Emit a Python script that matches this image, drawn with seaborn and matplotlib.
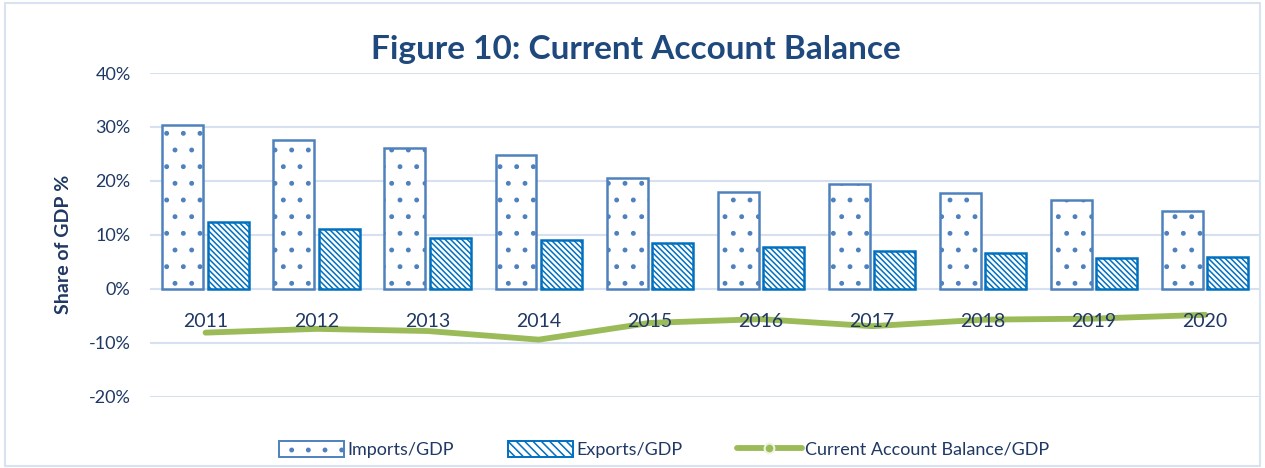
import matplotlib
matplotlib.use("Agg")
import matplotlib.pyplot as plt
import seaborn as sns
import pandas as pd
import numpy as np
from matplotlib.patches import Patch
from matplotlib.lines import Line2D
from matplotlib.ticker import PercentFormatter

years = ["2011", "2012", "2013", "2014", "2015", "2016", "2017", "2018", "2019", "2020"]
imports_gdp = [30.4, 27.6, 26.1, 24.8, 20.6, 18.0, 19.4, 17.8, 16.5, 14.4]
exports_gdp = [12.4, 11.1, 9.4, 9.1, 8.5, 7.8, 7.0, 6.7, 5.7, 5.9]
cab_gdp = [-8.1, -7.4, -7.8, -9.4, -6.3, -5.6, -6.9, -5.7, -5.5, -4.8]

sns.set_theme(style="white")
plt.rcParams['font.family'] = ['Lato', 'DejaVu Sans']
plt.rcParams['axes.unicode_minus'] = False
plt.rcParams['hatch.linewidth'] = 1.1

navy = "#1F3864"
title_c = "#1F497D"
edge_c = "#4F81BD"
hatch_c = "#0070C0"
green = "#9BBB59"
grid_c = "#D6E0F0"

DOT_H = "."
STRIPE_H = "\\\\\\\\\\\\"

df = pd.DataFrame({
    "Year": years * 2,
    "Value": imports_gdp + exports_gdp,
    "Series": ["Imports/GDP"] * len(years) + ["Exports/GDP"] * len(years),
})

fig = plt.figure(figsize=(12.65, 4.68), dpi=100)
ax = fig.add_axes([0.1186, 0.152, 0.8780, 0.692])

sns.barplot(data=df, x="Year", y="Value", hue="Series", ax=ax,
            palette=["white", "white"], width=0.82, gap=0.1,
            edgecolor=hatch_c, linewidth=1.8, legend=False, zorder=3)

n = len(years)
for i, p in enumerate(ax.patches[:2 * n]):
    p.set_facecolor("white")
    if i < n:
        p.set_hatch(DOT_H)
        p.set_edgecolor(edge_c)
    else:
        p.set_hatch(STRIPE_H)
        p.set_edgecolor(hatch_c)

line_df = pd.DataFrame({"Year": years, "Value": cab_gdp})
sns.lineplot(data=line_df, x="Year", y="Value", ax=ax, color=green,
             linewidth=4.2, zorder=4, sort=False)

ax.set_ylim(-20, 40)
ax.set_xlim(-0.5, n - 0.5)
ax.set_yticks([-20, -10, 0, 10, 20, 30, 40])
ax.yaxis.set_major_formatter(PercentFormatter(decimals=0))
ax.grid(axis="y", color=grid_c, linewidth=1.5, zorder=0)
ax.set_axisbelow(True)
ax.xaxis.set_zorder(6)
for s in ["top", "right", "left"]:
    ax.spines[s].set_visible(False)
ax.spines["bottom"].set_position(("data", 0))
ax.spines["bottom"].set_visible(False)
ax.tick_params(axis="x", length=0, pad=17, labelsize=14, labelcolor=navy)
ax.tick_params(axis="y", length=0, pad=14, labelsize=13, labelcolor=navy)
ax.set_xlabel("")
ax.set_ylabel("Share of GDP %", fontsize=14, fontweight="bold", color=navy)
ax.yaxis.set_label_coords(-0.070, 0.47)

fig.text(0.503, 0.895, "Figure 10: Current Account Balance", ha="center", va="center",
         fontsize=24, fontweight="bold", color=title_c)

handles = [
    Patch(facecolor="white", edgecolor=edge_c, hatch=". ", linewidth=1.4),
    Patch(facecolor="white", edgecolor=hatch_c, hatch="\\\\\\\\", linewidth=1.4),
    Line2D([0], [0], color=green, linewidth=4.2, marker="o", markersize=7,
           markerfacecolor=green, markeredgecolor="#EEF3E2", markeredgewidth=1.5),
]
labels = ["Imports/GDP", "Exports/GDP", "Current Account Balance/GDP"]
fig.legend(handles, labels, loc="center", bbox_to_anchor=(0.525, 0.04), ncol=3,
           frameon=False, fontsize=13, labelcolor=navy, handlelength=3.6,
           handleheight=1.0, handletextpad=0.2, columnspacing=3.0)

border = plt.Rectangle((0.004, 0.004), 0.992, 0.99, transform=fig.transFigure,
                       fill=False, edgecolor="#D9E2F0", linewidth=1.5)
fig.patches.append(border)

fig.savefig("out.png", dpi=100)
